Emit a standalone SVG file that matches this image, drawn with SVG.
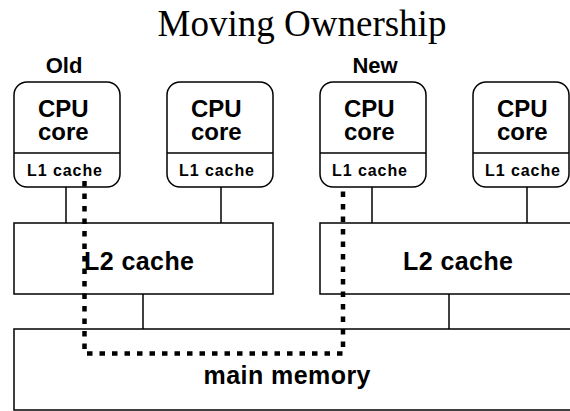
<svg xmlns="http://www.w3.org/2000/svg" width="570" height="411" viewBox="0 0 570 411">
<style>
.box{fill:#fff;stroke:#000;stroke-width:1.5}
.ln{stroke:#000;stroke-width:1.5;fill:none}
.t{font-family:"Liberation Sans",Arial,sans-serif;font-weight:bold;fill:#000}
.big{font-size:24px}
.l1{font-size:16px}
.title{font-family:"Liberation Serif","Times New Roman",serif;font-size:37px;fill:#000}
.dot{stroke:#000;stroke-width:4.5;fill:none;stroke-dasharray:5.5 7}
</style>
<rect width="570" height="411" fill="#fff"/>
<text class="title" x="302" y="36" text-anchor="middle">Moving Ownership</text>
<text class="t" x="64" y="73" font-size="22" text-anchor="middle">Old</text>
<text class="t" x="375" y="73" font-size="22" text-anchor="middle">New</text>
<g id="connectors">
<line class="ln" x1="66" y1="187" x2="66" y2="223"/>
<line class="ln" x1="221" y1="187" x2="221" y2="223"/>
<line class="ln" x1="372" y1="187" x2="372" y2="223"/>
<line class="ln" x1="527" y1="187" x2="527" y2="223"/>
<line class="ln" x1="143" y1="294" x2="143" y2="329"/>
<line class="ln" x1="449" y1="294" x2="449" y2="329"/>
</g>
<g id="cpu1">
<rect class="box" x="14" y="82" width="106" height="105" rx="13"/>
<line class="ln" x1="14" y1="153" x2="120" y2="153"/>
<text class="t big" x="38" y="117">CPU</text>
<text class="t big" x="38" y="140">core</text>
<text class="t l1" x="27" y="176" textLength="75">L1 cache</text>
</g>
<g id="cpu2">
<rect class="box" x="167" y="82" width="106" height="105" rx="13"/>
<line class="ln" x1="167" y1="153" x2="273" y2="153"/>
<text class="t big" x="191" y="117">CPU</text>
<text class="t big" x="191" y="140">core</text>
<text class="t l1" x="179" y="176" textLength="75">L1 cache</text>
</g>
<g id="cpu3">
<rect class="box" x="320" y="82" width="106" height="105" rx="13"/>
<line class="ln" x1="320" y1="153" x2="426" y2="153"/>
<text class="t big" x="344" y="117">CPU</text>
<text class="t big" x="344" y="140">core</text>
<text class="t l1" x="332" y="176" textLength="75">L1 cache</text>
</g>
<g id="cpu4">
<rect class="box" x="473" y="82" width="96" height="105" rx="13"/>
<line class="ln" x1="473" y1="153" x2="569" y2="153"/>
<text class="t big" x="497" y="117">CPU</text>
<text class="t big" x="497" y="140">core</text>
<text class="t l1" x="485" y="176" textLength="75">L1 cache</text>
</g>
<g id="l2a">
<rect class="box" x="14" y="223" width="259" height="71"/>
<text class="t" x="139" y="270" font-size="25" text-anchor="middle" textLength="110">L2 cache</text>
</g>
<g id="l2b">
<rect class="box" x="320" y="223" width="270" height="71"/>
<text class="t" x="458" y="270" font-size="25" text-anchor="middle" textLength="110">L2 cache</text>
</g>
<g id="mem">
<rect class="box" x="14" y="329" width="580" height="81"/>
<text class="t" x="287" y="384" font-size="25" text-anchor="middle" textLength="167">main memory</text>
</g>
<g id="path">
<path class="dot" d="M84.5,181 V353.5 H343 V188"/>
</g>
</svg>
